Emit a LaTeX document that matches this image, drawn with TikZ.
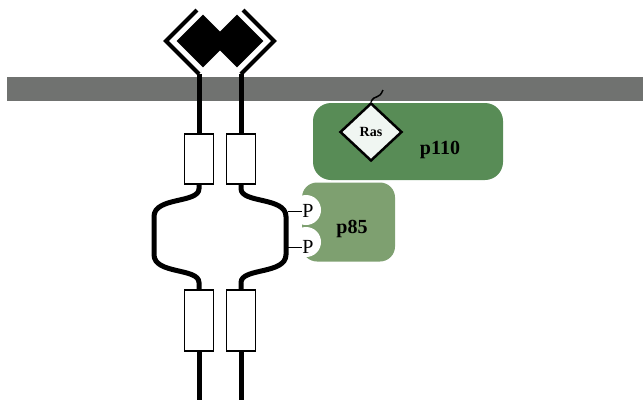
\documentclass[tikz,border=0pt]{standalone}
\usepackage{fontspec}
\setmainfont{Liberation Serif}
\usetikzlibrary{positioning,shapes.geometric}

\definecolor{memgray}{RGB}{112,114,112}
\definecolor{pgreen}{RGB}{88,140,86}
\definecolor{rgreen}{RGB}{126,160,112}
\definecolor{raswhite}{RGB}{240,246,242}

\begin{document}
\begin{tikzpicture}[x=1pt,y=-1pt,
  seg/.style={draw,line width=1.2pt,fill=white,minimum width=29pt,minimum height=#1,inner sep=0pt},
  seg/.default=50pt,
  ligand/.style={diamond,fill=black,minimum width=53pt,minimum height=53pt,inner sep=0pt},
  chain/.style={line width=5pt},
  arm/.style={line width=4pt,line join=miter},
  sub/.style={fill=#1,rounded corners=18pt,inner sep=0pt},
  lbl/.style={font=\bfseries\fontsize{20}{20}\selectfont,inner sep=0pt},
  phos/.style={font=\fontsize{20}{20}\selectfont,inner sep=0pt}]
\useasboundingbox (0,0) rectangle (643,400);

% membrane
\fill[memgray] (7,77) rectangle (643,101);

% PI3-kinase: p110 with Ras on top
\node[sub=pgreen,minimum width=190pt,minimum height=77pt] (p110body) at (408,141.5) {};
\node[lbl] (p110) at (440,150) {p110};
\node[diamond,draw,line width=2.5pt,fill=raswhite,minimum width=62pt,minimum height=58pt,
  inner sep=0pt,font=\bfseries\fontsize{14}{14}\selectfont] (ras) at (371,132) {Ras};
\coordinate (anchor) at (383,90);
\draw[line width=1.5pt] (ras.north) .. controls (375,94) and (379,100) .. (anchor);

% p85 with its two SH2 pockets
\node[sub=rgreen,minimum width=93pt,minimum height=79pt,rounded corners=15pt] (p85body) at (348.5,222) {};
\fill[white] (306,210) circle (15pt) (306,242) circle (15pt);
\node[lbl] (p85) at (352,229) {p85};

% receptor dimer
\foreach \n/\d in {l/-1,r/1}{
  \node[ligand] (lig\n) at ({220+17*\d},41) {};
  \node[seg=50pt] (up\n) at ({220+21*\d},159) {};
  \node[seg=61pt] (low\n) at ({220+21*\d},320.5) {};
  \coordinate (tip\n) at ({220+23*\d},10);
  \coordinate (knee\n) at ({220+54*\d},41);
  \coordinate (foot\n) at ({220+21*\d},74);
  \coordinate (end\n) at ({220+21*\d},400);
  \draw[arm] (tip\n) -- (knee\n) -- (foot\n);
  \draw[chain] (foot\n) -- (up\n.north);
  \draw[chain] (up\n.south) -- ++(0,4) .. controls +(0,15) and +(0,-20) .. ++({45*\d},28)
    -- ++(0,38) .. controls +(0,20) and +(0,-15) .. ++({-45*\d},28) -- (low\n.north);
  \draw[chain] (low\n.south) -- (end\n);
}

% phosphotyrosines
\node[phos] (P1) at (308,211) {P};
\node[phos] (P2) at (308,247) {P};
\coordinate (y1) at (288,211);
\coordinate (y2) at (288,247);
\draw[line width=1pt] (y1) -- (P1.west);
\draw[line width=1pt] (y2) -- (P2.west);
\end{tikzpicture}
\end{document}
